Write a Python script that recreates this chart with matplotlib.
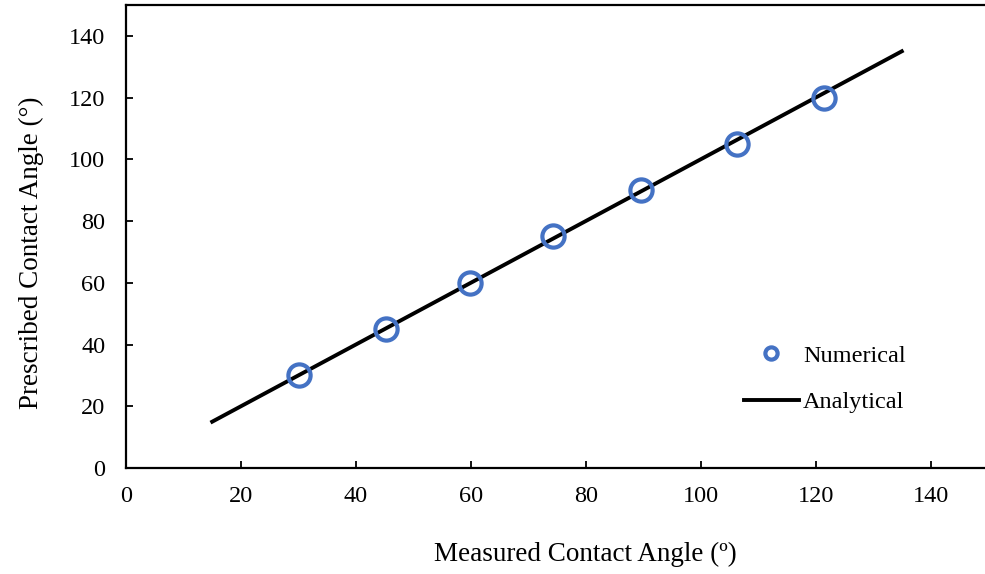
import matplotlib.pyplot as plt
import numpy as np

measured = [30.1, 45.2, 59.9, 74.3, 89.6, 106.3, 121.5]
prescribed = [30, 45, 60, 75, 90, 105, 120]
analytical_x = [15, 135]
analytical_y = [15, 135]
xticks = [0, 20, 40, 60, 80, 100, 120, 140]
yticks = [0, 20, 40, 60, 80, 100, 120, 140]

plt.rcParams['font.family'] = ['Liberation Serif', 'DejaVu Serif']
fig = plt.figure(figsize=(9.85, 5.74), dpi=100)
ax = fig.add_axes([126/985, 1-468/574, 862/985, 463/574])

ax.plot(analytical_x, analytical_y, color='black', lw=2.8, label='Analytical', zorder=2)
ax.plot(measured, prescribed, 'o', ms=16, mfc='none', mec='#4472C4', mew=3, label='Numerical', zorder=3)

ax.set_xlim(0, 150)
ax.set_ylim(0, 150)
ax.set_xticks(xticks)
ax.set_yticks(yticks)
ax.tick_params(direction='in', length=5, width=1.3, labelsize=17.5)
ax.tick_params(axis='y', pad=15)
ax.tick_params(axis='x', pad=13)
for s in ['left', 'bottom', 'top']:
    ax.spines[s].set_linewidth(1.6)
ax.spines['right'].set_visible(False)

ax.set_xlabel('Measured Contact Angle (º)', fontsize=19.5, labelpad=25)
ax.set_ylabel('Prescribed Contact Angle (°)', fontsize=19.5, labelpad=18)
ax.xaxis.label.set_x(0.5325)
ax.yaxis.label.set_y(0.464)

h, l = ax.get_legend_handles_labels()
leg = ax.legend([h[1], h[0]], [l[1], l[0]], frameon=False, fontsize=17.5,
                loc='center left', bbox_to_anchor=(0.691, 0.192), handlelength=2.3,
                markerscale=0.55, labelspacing=1.0, handletextpad=0.15)
fig.savefig('out.png', dpi=100)
